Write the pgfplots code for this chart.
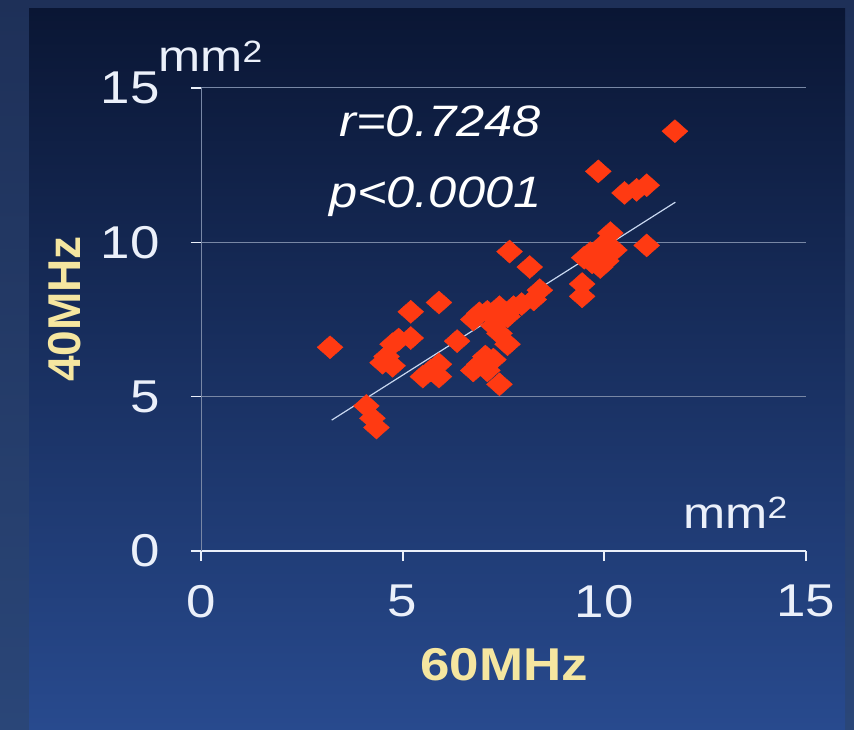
\documentclass[border=0pt]{standalone}
\usepackage{fontspec}
\setmainfont{Liberation Sans}
\usepackage{pgfplots}
\pgfplotsset{compat=1.18}
\definecolor{bgtop}{RGB}{10,22,52}
\definecolor{bgbot}{RGB}{40,74,142}
\definecolor{frtop}{RGB}{30,48,88}
\definecolor{frbot}{RGB}{42,70,120}
\definecolor{mk}{RGB}{255,58,18}
\definecolor{lbl}{RGB}{245,230,160}
\definecolor{tk}{RGB}{235,240,250}
\definecolor{gridc}{RGB}{120,135,165}
\definecolor{trend}{RGB}{200,215,240}
\newcommand\bigf{\fontsize{46pt}{50pt}\selectfont}
\newcommand\midf{\fontsize{44pt}{48pt}\selectfont}
\begin{document}
\begin{tikzpicture}
\shade[top color=frtop,bottom color=frbot] (0pt,0pt) rectangle (854pt,729pt);
\shade[top color=bgtop,bottom color=bgbot] (29pt,0pt) rectangle (845pt,720pt);
\begin{axis}[at={(201pt,178pt)},anchor=south west,width=605pt,height=463pt,scale only axis,
  xmin=0,xmax=15,ymin=0,ymax=15,
  xtick={0,5,10,15}, ytick={0,5,10,15},
  ymajorgrids, grid style={gridc,line width=1pt},
  axis lines=left, axis line style={-},
  x axis line style={tk,line width=2pt},
  y axis line style={gridc,line width=1pt},
  tick align=outside, major tick length=10pt,
  xtick style={tk,line width=2pt}, ytick style={tk,line width=1.5pt},
  ticklabel style={font=\bigf, text=tk, inner sep=0pt},
  xticklabel style={xscale=1.15, yshift=-24pt},
  yticklabel style={xscale=1.15, xshift=-27pt},
  /pgf/number format/assume math mode=true,
]
\addplot[only marks, mark=diamond*, mark size=11.5pt, color=mk, mark options={xscale=1.5, fill=mk, draw=mk}] coordinates {
(3.2,6.6) (4.1,4.7) (4.25,4.3) (4.35,4.0) (4.5,6.1) (4.6,6.3) (4.75,6.0) (4.75,6.7) (4.9,6.85)
(5.2,6.9) (5.2,7.75) (5.5,5.65) (5.7,5.85) (5.9,5.65) (5.9,6.05) (5.9,8.05) (6.35,6.8)
(6.75,5.85) (6.9,6.05) (7.1,5.85) (7.05,6.3) (7.25,6.2) (7.0,6.15) (7.4,5.4)
(6.75,7.5) (6.9,7.7) (7.1,7.75) (7.25,7.3) (7.4,7.9) (7.6,7.6) (7.4,7.05) (7.6,6.7)
(7.75,7.9) (7.95,8.0) (8.25,8.15) (8.4,8.45) (8.15,9.2) (7.65,9.7)
(9.45,8.25) (9.45,8.65) (9.5,9.5) (9.65,9.65) (9.7,9.35) (9.9,9.2) (10.05,9.4)
(10.0,9.95) (10.25,9.75) (10.15,10.3) (11.05,9.9) (9.85,12.3) (10.5,11.6) (10.8,11.7)
(11.05,11.85) (11.75,13.6)
};
\addplot[trend, line width=1.2pt] coordinates {(3.24,4.24) (11.76,11.3)};
\node[font=\midf\itshape, text=white, anchor=base, xscale=1.15, inner sep=0pt] at (axis cs:5.93,13.42) {r=0.7248};
\node[font=\midf\itshape, text=white, anchor=base, xscale=1.15, inner sep=0pt] at (axis cs:5.81,11.14) {p<0.0001};
\end{axis}
\node[anchor=base west, font=\midf, text=tk, inner sep=0pt, xscale=1.15] at (158pt,657pt) {mm\textsuperscript{2}};
\node[anchor=base west, font=\midf, text=tk, inner sep=0pt, xscale=1.15] at (683pt,201pt) {mm\textsuperscript{2}};
\node[anchor=base, font=\bigf\bfseries, text=lbl, xscale=1.15, inner sep=0pt] at (504pt,49pt) {60MHz};
\node[anchor=base, rotate=90, font=\bigf\bfseries, text=lbl, inner sep=0pt] at (80pt,420pt) {40MHz};
\end{tikzpicture}
\end{document}
